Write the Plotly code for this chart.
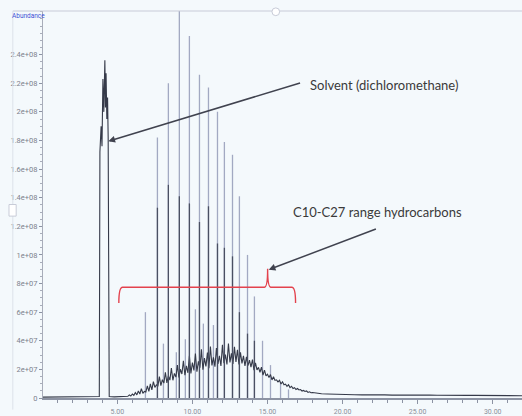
import plotly.graph_objects as go

# ---------------- data (abundance in units of 1e6 counts) ----------------
SCALE = 1e6

# continuous trace: baseline, solvent peak and the unresolved hump
tic_time = [0.05, 1.0, 2.0, 3.0, 3.6, 3.80, 3.84, 3.92, 3.98, 4.04, 4.10, 4.17, 4.21, 4.25, 4.30, 4.35, 4.39, 4.41,
            4.46, 4.8, 5.2, 5.5, 5.6, 5.7, 5.8, 5.9, 6.0,
            6.1, 6.2, 6.3, 6.4, 6.5, 6.6, 6.7, 6.8, 6.9, 7.0,
            7.1, 7.2, 7.3, 7.4, 7.5, 7.6, 7.7, 7.8, 7.9, 8.0,
            8.1, 8.2, 8.3, 8.4, 8.5, 8.6, 8.7, 8.8, 8.9, 9.0,
            9.1, 9.2, 9.3, 9.4, 9.5, 9.6, 9.7, 9.8, 9.9, 10.0,
            10.1, 10.2, 10.3, 10.4, 10.5, 10.6, 10.7, 10.8, 10.9, 11.0,
            11.1, 11.2, 11.3, 11.4, 11.5, 11.6, 11.7, 11.8, 11.9, 12.0,
            12.1, 12.2, 12.3, 12.4, 12.5, 12.6, 12.7, 12.8, 12.9, 13.0,
            13.1, 13.2, 13.3, 13.4, 13.5, 13.6, 13.7, 13.8, 13.9, 14.0,
            14.1, 14.2, 14.3, 14.4, 14.5, 14.6, 14.7, 14.8, 14.9, 15.0,
            15.1, 15.2, 15.3, 15.4, 15.5, 15.6, 15.7, 15.8, 15.9, 16.0,
            16.1, 16.2, 16.3, 16.4, 16.5, 16.6, 16.7, 16.8, 16.9, 17.0,
            17.1, 17.2, 17.3, 17.4, 17.5, 17.6, 17.7, 17.8, 17.9, 18.0,
            18.3, 18.6, 19.0, 19.4, 19.8, 20.3, 20.8, 21.3, 21.8, 22.3, 22.8, 23.3,
            23.8, 24.3, 24.8, 25.3, 25.8, 26.3, 26.8, 27.3, 27.8, 28.3, 28.8, 29.3,
            29.8, 30.3, 30.8, 31.3, 31.95]
tic_abund = [0.6, 0.6, 0.6, 0.7, 0.8, 1.0, 172, 190, 176, 223, 200, 236, 203, 227, 195, 210, 182, 2.0,
             1.0, 0.8, 0.9, 1.0, 1.5, 1.2, 2.2, 1.4, 2.8,
             1.9, 3.8, 2.2, 4.9, 2.8, 6.5, 3.3, 4.6, 4.2, 8.5,
             4.6, 9.8, 5.7, 11.5, 7.4, 9.2, 8.1, 15.0, 8.6, 12.8,
             10.4, 18.0, 10.6, 15.5, 12.5, 21.0, 12.4, 17.2, 14.6, 23.0,
             14.3, 20.1, 16.8, 26.0, 15.9, 22.4, 17.6, 29.5, 17.2, 24.8,
             19.3, 31.0, 18.4, 25.6, 21.1, 34.0, 19.8, 27.9, 22.0, 31.8,
             20.9, 36.0, 22.8, 28.4, 21.9, 34.9, 23.8, 29.5, 22.4, 37.2,
             24.3, 30.3, 23.4, 38.1, 24.9, 31.2, 23.8, 35.8, 25.2, 33.6,
             23.4, 31.9, 24.2, 29.4, 22.4, 28.7, 22.6, 26.4, 21.6, 26.8,
             19.5, 24.6, 19.6, 21.4, 18.0, 21.6, 16.0, 19.5, 15.4, 16.6,
             14.3, 16.4, 12.6, 14.9, 12.3, 12.7, 11.3, 12.4, 9.8, 11.3,
             9.2, 9.7, 8.2, 9.3, 7.3, 8.2, 6.6, 7.2, 5.9, 6.6,
             5.6, 5.9, 4.9, 5.3, 4.6, 4.9, 3.9, 4.3, 3.7, 3.8,
             3.3, 3.0, 2.8, 2.6, 2.5, 2.4, 2.3, 2.2, 2.3, 2.1, 2.2, 2.0,
             2.1, 2.0, 2.1, 1.9, 2.0, 1.9, 2.0, 1.8, 1.9, 1.8, 1.8, 1.7,
             1.8, 1.7, 1.7, 1.6, 1.6]

# resolved n-alkane peaks (tall sticks): retention time, apex height, darker lower part
alkane_time = [7.67, 8.40, 9.13, 9.80, 10.47, 11.07, 11.67, 12.13, 12.67, 13.13, 13.67, 14.13]
alkane_apex = [182, 220, 275, 253, 226, 217, 200, 179, 170, 141, 100, 71]
alkane_dark = [133, 149, 141, 136, 123, 134, 108, 105, 99, 60, 45, 40]

# medium peaks within the hump
minor_time = [6.87, 8.07, 8.93, 9.53, 10.20, 10.73, 11.40, 14.67, 15.20, 15.87, 16.40]
minor_apex = [60, 38, 32, 41, 62, 52, 51, 40, 23, 11, 6]

# axis ticks
x_tickvals = [5, 10, 15, 20, 25, 30]
x_ticktext = ["5.00", "10.00", "15.00", "20.00", "25.00", "30.00"]
y_tickvals = [0, 2e7, 4e7, 6e7, 8e7, 1e8, 1.2e8, 1.4e8, 1.6e8, 1.8e8, 2e8, 2.2e8, 2.4e8]
y_ticktext = ["0", "2e+07", "4e+07", "6e+07", "8e+07", "1e+08", "1.2e+08", "1.4e+08",
              "1.6e+08", "1.8e+08", "2e+08", "2.2e+08", "2.4e+08"]

# annotation anchors (time, abundance)
solvent_label = "Solvent (dichloromethane)"
solvent_head = (4.40, 1.795e8)
solvent_tail = (17.27, 2.205e8)
hc_label = "C10-C27 range hydrocarbons"
hc_head = (15.08, 8.97e7)
hc_tail = (22.32, 1.185e8)
bracket_left, bracket_right, bracket_tip = 5.10, 16.87, 15.01
bracket_y, bracket_end_y, bracket_tip_y = 7.74e7, 6.64e7, 9.04e7

# ---------------- figure ----------------
BG = "#f4f9fc"
LIGHT = "#a2a9c2"
DARK = "#353a49"
RED = "#e3424d"
TXT = "#3a3a3a"
LABEL_FONT = "Lato, Roboto, sans-serif"
TICK_FONT = "Roboto, Lato, sans-serif"


def sticks(times, heights):
    xs, ys = [], []
    for t, h in zip(times, heights):
        xs += [t, t, None]
        ys += [0, h * SCALE, None]
    return xs, ys


fig = go.Figure()

sx, sy = sticks(alkane_time + minor_time, alkane_apex + minor_apex)
fig.add_trace(go.Scatter(x=sx, y=sy, mode="lines", line=dict(color=LIGHT, width=1.3),
                         hoverinfo="skip", showlegend=False))
fig.add_trace(go.Scatter(x=tic_time, y=[v * SCALE for v in tic_abund], mode="lines",
                         line=dict(color=DARK, width=1.1), showlegend=False))
dx, dy = sticks(alkane_time, alkane_dark)
fig.add_trace(go.Scatter(x=dx, y=dy, mode="lines", line=dict(color="#4a5063", width=1.3),
                         hoverinfo="skip", showlegend=False))

# bracket (curly brace)
L, R, T = bracket_left, bracket_right, bracket_tip
yb, ye, yt = bracket_y, bracket_end_y, bracket_tip_y
path = (f"M {L},{ye} Q {L},{yb} {L+0.25},{yb} L {T-0.22},{yb} Q {T},{yb} {T},{yt} "
        f"Q {T},{yb} {T+0.22},{yb} L {R-0.25},{yb} Q {R},{yb} {R},{ye}")
fig.add_shape(type="path", path=path, xref="x", yref="y", line=dict(color=RED, width=1.4))

# frame lines of the screenshot
fig.add_shape(type="line", xref="paper", yref="paper", x0=-0.063, x1=1, y0=1, y1=1,
              line=dict(color="#c8ccd8", width=1.2))
fig.add_shape(type="line", xref="paper", yref="paper", x0=-0.063, x1=-0.063, y0=-0.03, y1=1,
              line=dict(color="#dde2ea", width=1))
fig.add_shape(type="circle", xref="paper", yref="paper", x0=0.478, x1=0.494, y0=0.988, y1=1.008,
              line=dict(color="#c8ccd8", width=1), fillcolor="white")
fig.add_shape(type="rect", xref="paper", yref="paper", x0=-0.071, x1=-0.056, y0=0.47, y1=0.50,
              line=dict(color="#c8ccd8", width=1), fillcolor="white")

fig.add_annotation(x=solvent_head[0], y=solvent_head[1], ax=solvent_tail[0], ay=solvent_tail[1],
                   xref="x", yref="y", axref="x", ayref="y", text="", showarrow=True,
                   arrowhead=2, arrowsize=0.9, arrowwidth=1.5, arrowcolor="#40434f")
fig.add_annotation(x=hc_head[0], y=hc_head[1], ax=hc_tail[0], ay=hc_tail[1],
                   xref="x", yref="y", axref="x", ayref="y", text="", showarrow=True,
                   arrowhead=2, arrowsize=0.9, arrowwidth=1.5, arrowcolor="#40434f")
fig.add_annotation(x=0.711, y=0.808, xref="paper", yref="paper", text=solvent_label,
                   xanchor="center", yanchor="middle",
                   showarrow=False, font=dict(family=LABEL_FONT, size=13, color=TXT))
fig.add_annotation(x=0.699, y=0.481, xref="paper", yref="paper", text=hc_label,
                   xanchor="center", yanchor="middle",
                   showarrow=False, font=dict(family=LABEL_FONT, size=13, color=TXT))
fig.add_annotation(x=-0.031, y=0.988, xref="paper", yref="paper", text="Abundance",
                   xanchor="center", yanchor="middle",
                   showarrow=False, font=dict(family=TICK_FONT, size=6.5, color="#3d52d6"))

fig.update_xaxes(range=[0.05, 31.95], tickvals=x_tickvals, ticktext=x_ticktext,
                 showgrid=False, zeroline=False, showline=True, linecolor="#8c93a3", linewidth=1.5,
                 ticks="outside", ticklen=4, tickcolor="#8c93a3", ticklabelstandoff=2,
                 minor=dict(dtick=1, ticks="outside", ticklen=3, tickcolor="#8c93a3"),
                 tickfont=dict(family=TICK_FONT, size=7, color="#8a8f9a"))
fig.update_yaxes(range=[0, 2.705e8], tickvals=y_tickvals, ticktext=y_ticktext,
                 showgrid=False, zeroline=False, showline=True, linecolor="#a8adba", linewidth=1,
                 ticks="outside", ticklen=3, tickcolor="#8c93a3",
                 minor=dict(dtick=5e6, ticks="outside", ticklen=2, tickcolor="#a8adba"),
                 tickfont=dict(family=TICK_FONT, size=7.5, color="#7d828d"))

fig.update_layout(width=522, height=416, margin=dict(l=43, r=0, t=11, b=10),
                  paper_bgcolor=BG, plot_bgcolor=BG, showlegend=False)

fig.write_html("out.html")
